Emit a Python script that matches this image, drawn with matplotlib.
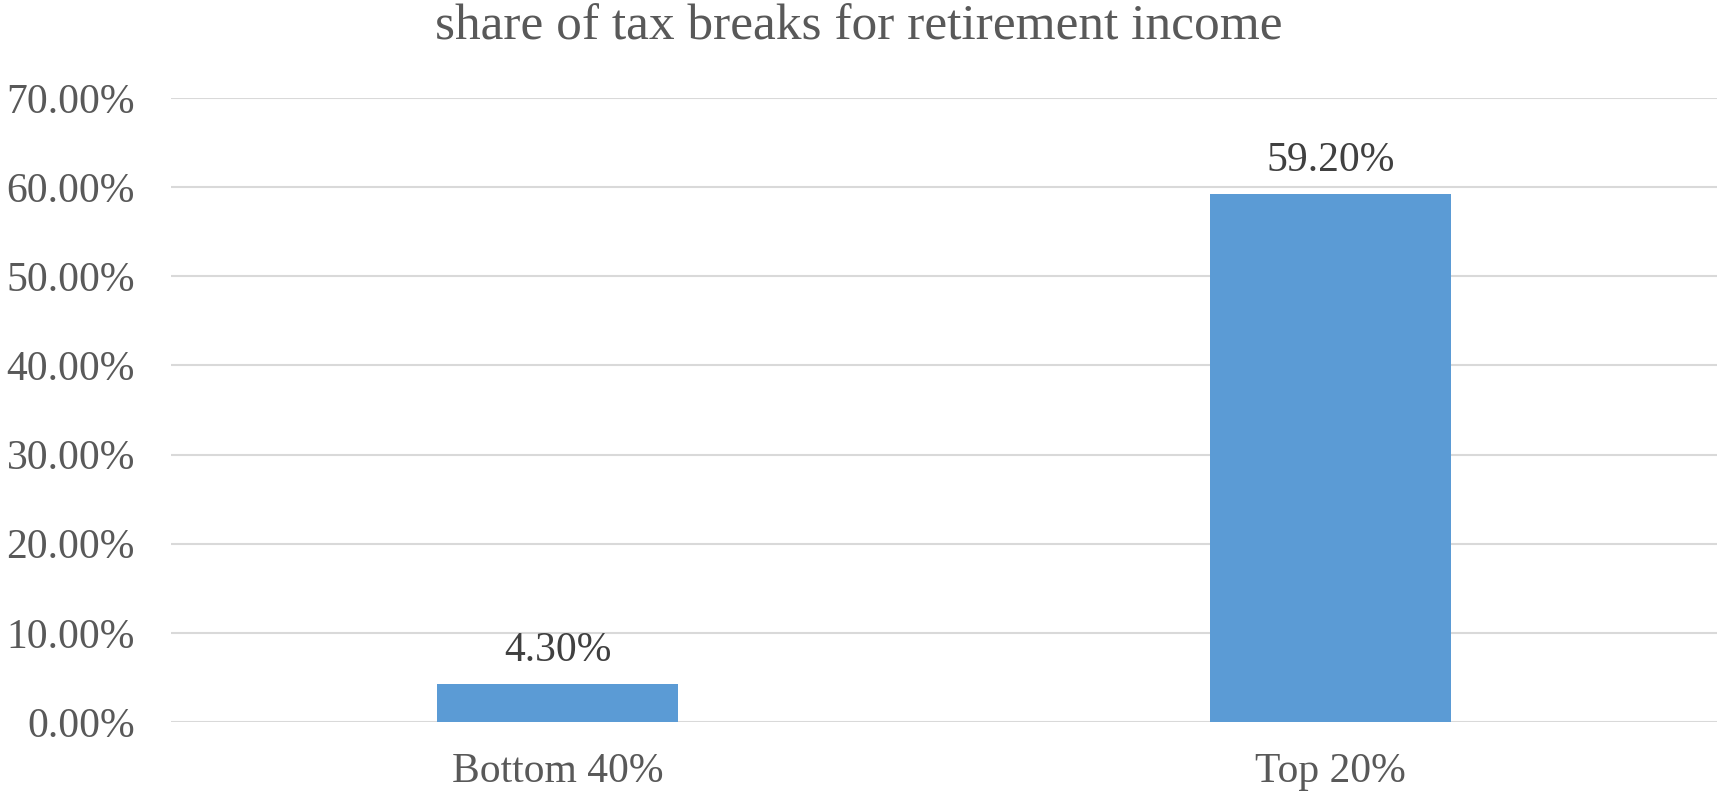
import matplotlib.pyplot as plt
from matplotlib.ticker import FuncFormatter

categories = ["Bottom 40%", "Top 20%"]
shares = [0.043, 0.592]
yticks = [0.0, 0.1, 0.2, 0.3, 0.4, 0.5, 0.6, 0.7]

plt.rcParams["font.family"] = ["Liberation Serif", "DejaVu Serif"]

fig = plt.figure(figsize=(17.17, 7.94), dpi=100)
ax = fig.add_axes([171 / 1717, 1 - 722 / 794, 1 - 171 / 1717, (722 - 98) / 794])

x = range(len(categories))
bars = ax.bar(x, shares, width=0.313, color="#5B9BD5", zorder=3)

for b, v in zip(bars, shares):
    ax.annotate(f"{v * 100:.2f}%", (b.get_x() + b.get_width() / 2, v),
                xytext=(0, 10), textcoords="offset points",
                ha="center", va="bottom", fontsize=30, color="#404040")

ax.set_xlim(-0.5, len(categories) - 0.5)
ax.set_ylim(0, 0.70)
ax.set_yticks(yticks)
ax.yaxis.set_major_formatter(FuncFormatter(lambda v, p: f"{v * 100:.2f}%"))
ax.set_xticks(list(x))
ax.set_xticklabels(categories)
ax.tick_params(axis="y", length=0, pad=26, labelsize=30, labelcolor="#595959")
ax.tick_params(axis="x", length=0, pad=22, labelsize=30, labelcolor="#595959")

ax.grid(axis="y", color="#D9D9D9", linewidth=1.5, zorder=0)
for s in ax.spines.values():
    s.set_visible(False)

# title sits over the whole figure, Excel-style
fig.text(0.5, 1 - 40 / 794, "share of tax breaks for retirement income",
         ha="center", va="baseline", fontsize=37, color="#595959")

fig.savefig("out.png", dpi=100)
